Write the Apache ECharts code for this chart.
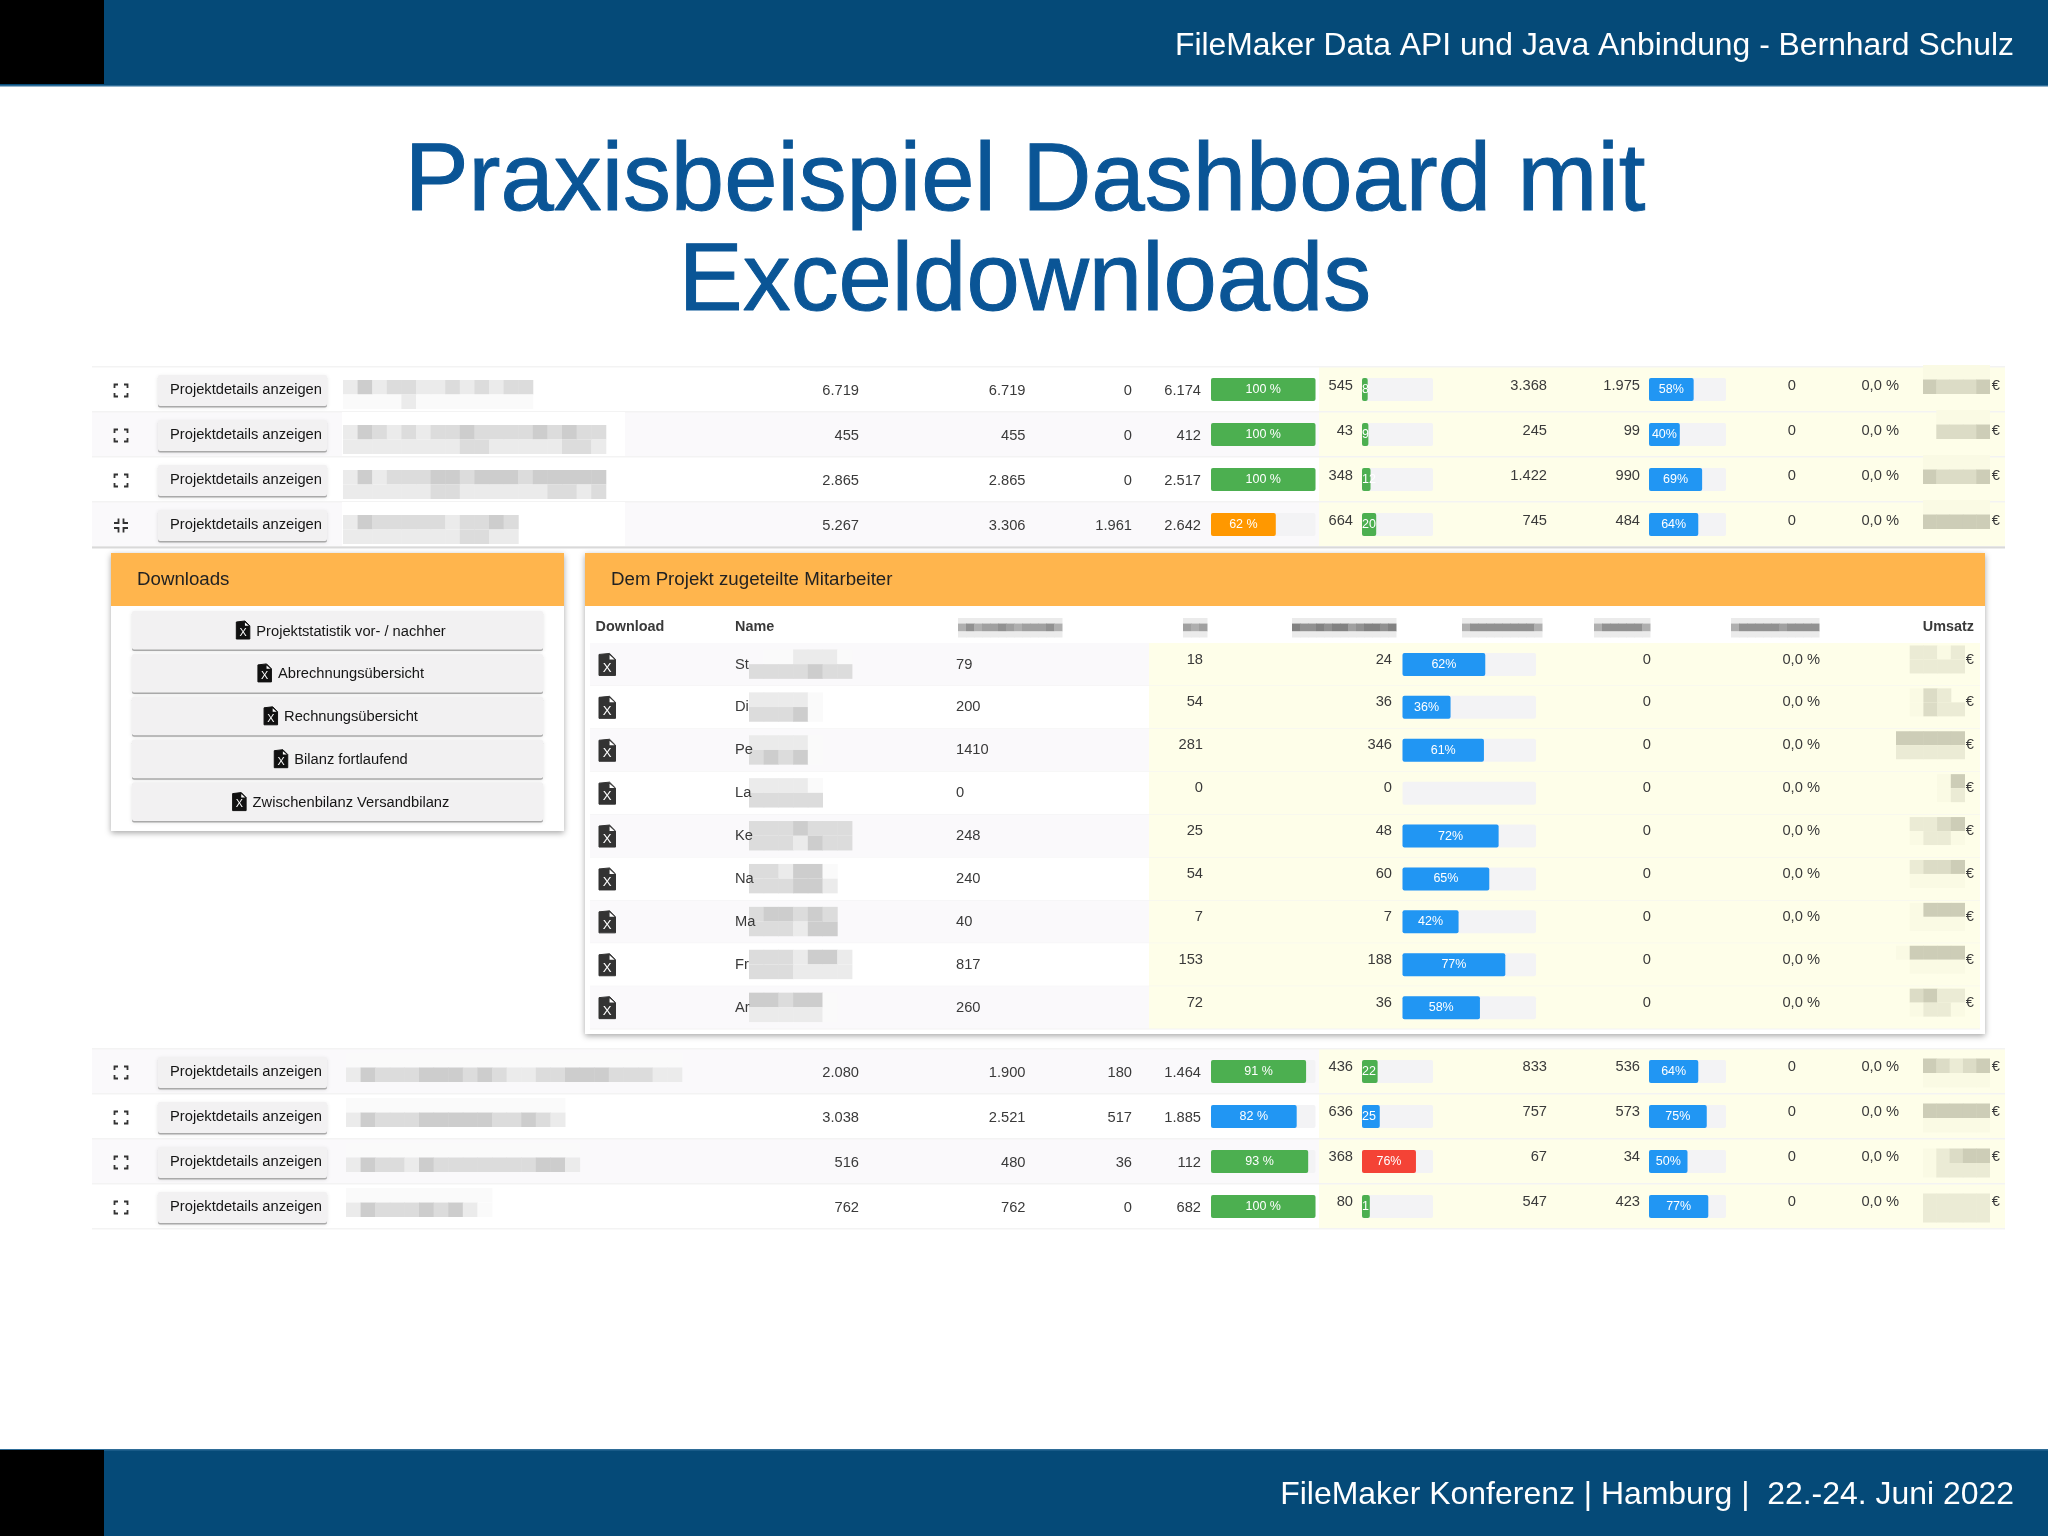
<!DOCTYPE html>
<html>
<head>
<meta charset="utf-8">
<style>html,body{margin:0;padding:0;background:#fff}#main{width:2048px;height:1536px}</style>
<script src="https://cdn.jsdelivr.net/npm/echarts@6/dist/echarts.min.js"></script>
</head>
<body>
<div id="main"></div>
<script>
/* ---------- data: projects, 4 rows above and 4 rows below the detail panel ---------- */
var planned  = ['6.719', '455', '2.865', '5.267', '2.080', '3.038', '516', '762'];
var assigned = ['6.719', '455', '2.865', '3.306', '1.900', '2.521', '480', '762'];
var open     = ['0', '0', '0', '1.961', '180', '517', '36', '0'];
var spent    = ['6.174', '412', '2.517', '2.642', '1.464', '1.885', '112', '682'];
var spentPct = [100, 100, 100, 62, 91, 82, 93, 100];
var spentCol = ['g', 'g', 'g', 'o', 'g', 'b', 'g', 'g'];
var rest     = ['545', '43', '348', '664', '436', '636', '368', '80'];
var restPct  = [8, 9, 12, 20, 22, 25, 76, 11];
var restText = ['8', '9', '12', '20', '22', '25', '76%', '1'];
var restCol  = ['g', 'g', 'g', 'g', 'g', 'b', 'r', 'g'];
var target   = ['3.368', '245', '1.422', '745', '833', '757', '67', '547'];
var done     = ['1.975', '99', '990', '484', '536', '573', '34', '423'];
var donePct  = [58, 40, 69, 64, 64, 75, 50, 77];
var zeros    = ['0', '0', '0', '0', '0', '0', '0', '0'];
var zeroPct  = ['0,0 %', '0,0 %', '0,0 %', '0,0 %', '0,0 %', '0,0 %', '0,0 %', '0,0 %'];

/* ---------- data: staff table ---------- */
var staffNames = ['St', 'Di', 'Pe', 'La', 'Ke', 'Na', 'Ma', 'Fr', 'Ar'];
var staffHours = ['79', '200', '1410', '0', '248', '240', '40', '817', '260'];
var staffA     = ['18', '54', '281', '0', '25', '54', '7', '153', '72'];
var staffB     = ['24', '36', '346', '0', '48', '60', '7', '188', '36'];
var staffPct   = [62, 36, 61, 0, 72, 65, 42, 77, 58];
var downloads  = ['Projektstatistik vor- / nachher', 'Abrechnungsübersicht', 'Rechnungsübersicht', 'Bilanz fortlaufend', 'Zwischenbilanz Versandbilanz'];

/* pixelated (anonymised) names: one hex digit = lightness of one mosaic cell, '-' = nothing */
var blurTop = [
  ['eceddeedededd', 'ffffeffffffff'],
  ['ecdededdcddddcdcdd', 'eeeeeeeeddeeeeedde'],
  ['ecedddccdcccdccccc', 'eeeeeeddeeeeeedded'],
  ['ecdddddeddcd', 'eeeeeeeeddee']
];
var blurBottom = [
  ['fffffffffffffffffffffff', 'ecdddcccdcdeeddcccdddee'],
  ['fffffffffffffff', 'ecdddcccccddcde'],
  ['ffffffffffffffff', 'ecddecdddddddcce'],
  ['ffffffffff', 'ecdddcdcef']
];
var blurNames = [
  ['-ffeeef', 'ddddcdd'],
  ['eeeef', 'dddcf'],
  ['eeeef', 'dcdcf'],
  ['eeeef', 'ddddd'],
  ['dddcddd', 'dddecdd'],
  ['ddeccf', 'dddcce'],
  ['dccdcd', 'dddecc'],
  ['dddecce', 'dddeeee'],
  ['ccdccf', 'eeeeef']
];
var blurEuroTop = [
  ['fffff', 'cdddc'],
  ['-ffff', '-dddc'],
  ['fffff', 'cdddc'],
  ['fffff', 'ccccc'],
  ['cdedc', 'fffff'],
  ['ccccc', 'fffff'],
  ['fedcc', 'feeee'],
  ['eeeee', 'eeeee']
];
var blurEuroStaff = [
  ['-eefe', '-eeee'],
  ['-fde', '-fdee'],
  ['ccccc', 'eeeee'],
  ['---fc', '---fe'],
  ['-eedc', '-feef'],
  ['-eddc', '-ffff'],
  ['-fccc', '-ffff'],
  ['fcccc', '-ffff'],
  ['-dcee', '-feef']
];
var blurHeaders = ['a8a9989a9998a', '9a9', '7887877987787', 'a88888888a', 'a88888a', 'a8888898888'];
var blurHeaderX = [958, 1183, 1292, 1462, 1594, 1731];

/* ---------- colours ---------- */
var FONT = '"Liberation Sans", Arial, sans-serif';
var NAVY = '#054a78', TITLE = '#0a5596', ORANGE = '#ffb54d', YELLOW = '#fefee9', STRIPE = '#faf9fb', LINE = '#f3f3f3', INK = '#3a3a3a';
var STATUS = { g: '#4caf50', o: '#ff9800', b: '#2196f3', r: '#f44336' };

var g = [];
function rect(x, y, w, h, fill, z, extra) {
  var style = { fill: fill };
  for (var k in (extra || {})) style[k] = extra[k];
  g.push({ type: 'rect', silent: true, z: z || 0, shape: { x: x, y: y, width: w, height: h, r: (extra && extra.r) || 0 }, style: style });
}
function text(x, y, str, opt) {
  opt = opt || {};
  var style = {
    text: str, fill: opt.color || INK, font: (opt.weight || 'normal') + ' ' + (opt.size || 14.7) + 'px ' + FONT,
    textAlign: opt.align || 'right', textVerticalAlign: 'middle'
  };
  if (opt.stroke) { style.stroke = opt.color; style.lineWidth = opt.stroke; }
  g.push({ type: 'text', silent: true, z: 20, x: x, y: y, style: style });
}
function shade(c, tint) {
  var v = parseInt(c, 16) * 15 + 25;
  return 'rgb(' + v + ',' + v + ',' + (tint ? v - 22 : v) + ')';
}
function mosaic(x, y, cell, cellH, row, tint) {
  for (var i = 0; i < row.length; i++) {
    if (row[i] !== '-') rect(x + i * cell, y, cell + 0.5, cellH, shade(row[i], tint), 3);
  }
}
function button(x, y, w, h) {
  rect(x, y + 1.5, w, h, '#a9a9a9', 2, { r: 2, shadowBlur: 4, shadowColor: 'rgba(0,0,0,0.12)' });
  rect(x, y, w, h, '#f2f1f2', 2, { r: 2 });
}
function corners(cx, cy, collapse) {
  var arm = collapse ? 4.5 : 3.5, ox = collapse ? 2.5 : 6.5, oy = collapse ? 2.5 : 6;
  [[-1, -1], [1, -1], [-1, 1], [1, 1]].forEach(function (q) {
    var px = cx + q[0] * ox, py = cy + q[1] * oy, d = collapse ? 1 : -1;
    g.push({ type: 'polyline', silent: true, z: 3, shape: { points: [
      [px + q[0] * d * arm, py], [px, py], [px, py + q[1] * d * arm]
    ] }, style: { stroke: '#333', lineWidth: 1.8, fill: null } });
  });
}
function fileIcon(x, y, w, h, color) {
  var n = w * 0.36;
  g.push({ type: 'polygon', silent: true, z: 3, shape: { points: [[x, y + 1], [x + w - n, y], [x + w, y + n], [x + w, y + h], [x, y + h]] }, style: { fill: color, lineJoin: 'round', stroke: color, lineWidth: 1 } });
  g.push({ type: 'polygon', silent: true, z: 4, shape: { points: [[x + w - n, y + 1.5], [x + w - 1, y + n], [x + w - n, y + n]] }, style: { fill: '#fff' } });
  text(x + w / 2, y + h * 0.66, 'X', { align: 'center', size: w * 0.8, color: '#fff' });
}
function textWidth(str) {
  var c = document.createElement('canvas').getContext('2d');
  c.font = '14.7px ' + FONT;
  return c.measureText(str).width;
}

/* ---------- slide frame ---------- */
rect(0, 0, 2048, 85, NAVY);
rect(0, 85, 2048, 1.5, '#2f6d98');
rect(0, 0, 104, 84, '#000');
rect(0, 1449, 2048, 87, NAVY);
rect(0, 1449, 2048, 1.5, '#2f6d98');
rect(0, 1450, 104, 86, '#000');
text(2014, 46.5, 'FileMaker Data API und Java Anbindung - Bernhard Schulz', { size: 31.85, color: '#fff' });
text(2014, 1495, 'FileMaker Konferenz | Hamburg |  22.-24. Juni 2022', { size: 31.95, color: '#fff' });
text(1025, 184, 'Praxisbeispiel Dashboard mit', { size: 95.8, color: TITLE, align: 'center', stroke: 1 });
text(1025, 284, 'Exceldownloads', { size: 95.8, color: TITLE, align: 'center', stroke: 1 });

/* ---------- project rows ---------- */
var ROW_H = 45;
function projectRow(i, top, idx, stripe, blur, offs, collapse) {
  var y = top + idx * ROW_H, cy = y + 22.5;
  rect(92, y, 1227, ROW_H, stripe ? STRIPE : '#fff');
  rect(1319, y, 686, ROW_H, YELLOW);
  if (stripe && top < 600) rect(342, y, 283, ROW_H, '#fff', 1);
  rect(92, y + ROW_H - 1, 1913, 1.5, LINE, 1);
  corners(121, cy + 1, collapse);
  button(158, cy - 14.5, 169, 31);
  text(246, cy + 0.5, 'Projektdetails anzeigen', { align: 'center', color: '#151515' });
  mosaic(offs.x, cy + offs.a, 14.6, 14.5, blur[0]);
  mosaic(offs.x, cy + offs.b, 14.6, 14.5, blur[1]);
  text(859, cy + 1, planned[i]);
  text(1025.5, cy + 1, assigned[i]);
  text(1132, cy + 1, open[i]);
  text(1201, cy + 1, spent[i]);
  text(1353, cy + offs.t, rest[i]);
  text(1547, cy + offs.t, target[i]);
  text(1640, cy + offs.t, done[i]);
  text(1796, cy + offs.t, zeros[i]);
  text(1899, cy + offs.t, zeroPct[i]);
  mosaic(1923, cy + offs.e1, 13.3, 14.5, blurEuroTop[i][0], true);
  mosaic(1923, cy + offs.e2, 13.3, 14.5, blurEuroTop[i][1], true);
  text(2000, cy + offs.t, '€');
}
var ROW_TOP1 = 367, ROW_TOP2 = 1049;
for (var r = 0; r < 4; r++) {
  projectRow(r, ROW_TOP1, r, r % 2 === 1, blurTop[r], { x: 343, a: -9.5, b: 5, e1: -24.5, e2: -10, t: -4 }, r === 3);
  projectRow(r + 4, ROW_TOP2, r, r % 2 === 0, blurBottom[r], { x: 346, a: -18.5, b: -4, e1: -13, e2: 1.5, t: -5 }, false);
}
rect(92, ROW_TOP1 - 1, 1913, 1.5, LINE, 1);
rect(92, ROW_TOP2 - 1, 1913, 1.5, LINE, 1);
rect(92, 546.5, 1913, 2, '#d9d9d9', 2);

/* ---------- downloads panel ---------- */
rect(111, 553, 453, 278, '#fff', 1, { shadowBlur: 6, shadowOffsetY: 2, shadowColor: 'rgba(0,0,0,0.35)' });
rect(111, 553, 453, 53, ORANGE, 2);
text(137, 580, 'Downloads', { align: 'left', size: 18.7, color: '#222' });
downloads.forEach(function (name, i) {
  var y = 611 + i * 42.9;
  button(132, y, 411, 38.5);
  text(351, y + 20.5, name, { align: 'center', color: '#151515' });
  fileIcon(351 - textWidth(name) / 2 - 20, y + 10, 13.5, 18, '#111');
});

/* ---------- staff panel ---------- */
var STAFF_TOP = 643, STAFF_H = 42.9;
rect(585, 553, 1400, 481, '#fff', 1, { shadowBlur: 6, shadowOffsetY: 2, shadowColor: 'rgba(0,0,0,0.35)' });
rect(585, 553, 1400, 53, ORANGE, 2);
text(611, 580, 'Dem Projekt zugeteilte Mitarbeiter', { align: 'left', size: 18.7, color: '#222' });
text(595.5, 627, 'Download', { align: 'left', size: 14.4, weight: 'bold' });
text(735, 627, 'Name', { align: 'left', size: 14.4, weight: 'bold' });
text(1974, 627, 'Umsatz', { size: 14.4, weight: 'bold' });
blurHeaders.forEach(function (row, i) {
  var light = row.replace(/./g, 'e');
  mosaic(blurHeaderX[i], 618, 8, 5.5, light);
  mosaic(blurHeaderX[i], 623.5, 8, 8, row);
  mosaic(blurHeaderX[i], 631.5, 8, 6, light);
});
staffNames.forEach(function (name, i) {
  var y = STAFF_TOP + i * STAFF_H, cy = y + STAFF_H / 2;
  rect(590, y, 559, STAFF_H, i % 2 === 0 ? STRIPE : '#fff', 2);
  rect(1149, y, 831, STAFF_H, YELLOW, 2);
  rect(590, y + STAFF_H - 0.5, 1390, 1, LINE, 2);
  fileIcon(599, cy - 11, 16.5, 22, '#333');
  text(735, cy, name, { align: 'left' });
  mosaic(749, cy - 15, 14.7, 14.7, blurNames[i][0]);
  mosaic(749, cy - 0.3, 14.7, 14.7, blurNames[i][1]);
  text(956, cy, staffHours[i], { align: 'left' });
  text(1203, cy - 5, staffA[i]);
  text(1392, cy - 5, staffB[i]);
  text(1651, cy - 5, '0');
  text(1820, cy - 5, '0,0 %');
  mosaic(1896, cy - 19, 13.7, 14, blurEuroStaff[i][0], true);
  mosaic(1896, cy - 5, 13.7, 14, blurEuroStaff[i][1], true);
  text(1974, cy - 5, '€');
});

/* ---------- progress bars: one small grid per column ---------- */
var grids = [], xAxes = [], yAxes = [], series = [];
function barColumn(left, width, top, rowH, values, colors, labels) {
  var idx = grids.length;
  grids.push({ left: left, width: width, top: top, height: rowH * values.length });
  xAxes.push({ gridIndex: idx, type: 'value', min: 0, max: 100, show: false });
  yAxes.push({ gridIndex: idx, type: 'category', inverse: true, show: false, data: values.map(function (v, i) { return i; }) });
  series.push({
    type: 'bar', xAxisIndex: idx, yAxisIndex: idx, barWidth: 23, silent: true, animation: false,
    showBackground: true, backgroundStyle: { color: '#f3f3f5', borderRadius: 2 },
    data: values.map(function (v, i) {
      return {
        value: v,
        itemStyle: { color: colors[i], borderRadius: 2 },
        label: {
          show: v > 0, formatter: labels[i], color: '#fff', fontSize: 12.5, fontFamily: FONT,
          position: v < 30 ? 'insideLeft' : 'inside', distance: 0
        }
      };
    })
  });
}
function col(list) { return list.map(function (c) { return STATUS[c]; }); }
var spentLabels = spentPct.map(function (v) { return v + ' %'; });
var doneLabels = donePct.map(function (v) { return v + '%'; });
var allBlue = zeros.map(function () { return STATUS.b; });

barColumn(1211, 104.5, ROW_TOP1, ROW_H, spentPct.slice(0, 4), col(spentCol.slice(0, 4)), spentLabels.slice(0, 4));
barColumn(1362, 71, ROW_TOP1, ROW_H, restPct.slice(0, 4), col(restCol.slice(0, 4)), restText.slice(0, 4));
barColumn(1649, 77, ROW_TOP1, ROW_H, donePct.slice(0, 4), allBlue.slice(0, 4), doneLabels.slice(0, 4));
barColumn(1211, 104.5, ROW_TOP2, ROW_H, spentPct.slice(4), col(spentCol.slice(4)), spentLabels.slice(4));
barColumn(1362, 71, ROW_TOP2, ROW_H, restPct.slice(4), col(restCol.slice(4)), restText.slice(4));
barColumn(1649, 77, ROW_TOP2, ROW_H, donePct.slice(4), allBlue.slice(4), doneLabels.slice(4));
barColumn(1402.5, 133.5, STAFF_TOP, STAFF_H, staffPct, staffPct.map(function () { return STATUS.b; }), staffPct.map(function (v) { return v + '%'; }));

var chart = echarts.init(document.getElementById('main'), null, { renderer: 'canvas' });
chart.setOption({
  animation: false,
  backgroundColor: '#fff',
  graphic: { elements: g },
  grid: grids,
  xAxis: xAxes,
  yAxis: yAxes,
  series: series
});
</script>
</body>
</html>
